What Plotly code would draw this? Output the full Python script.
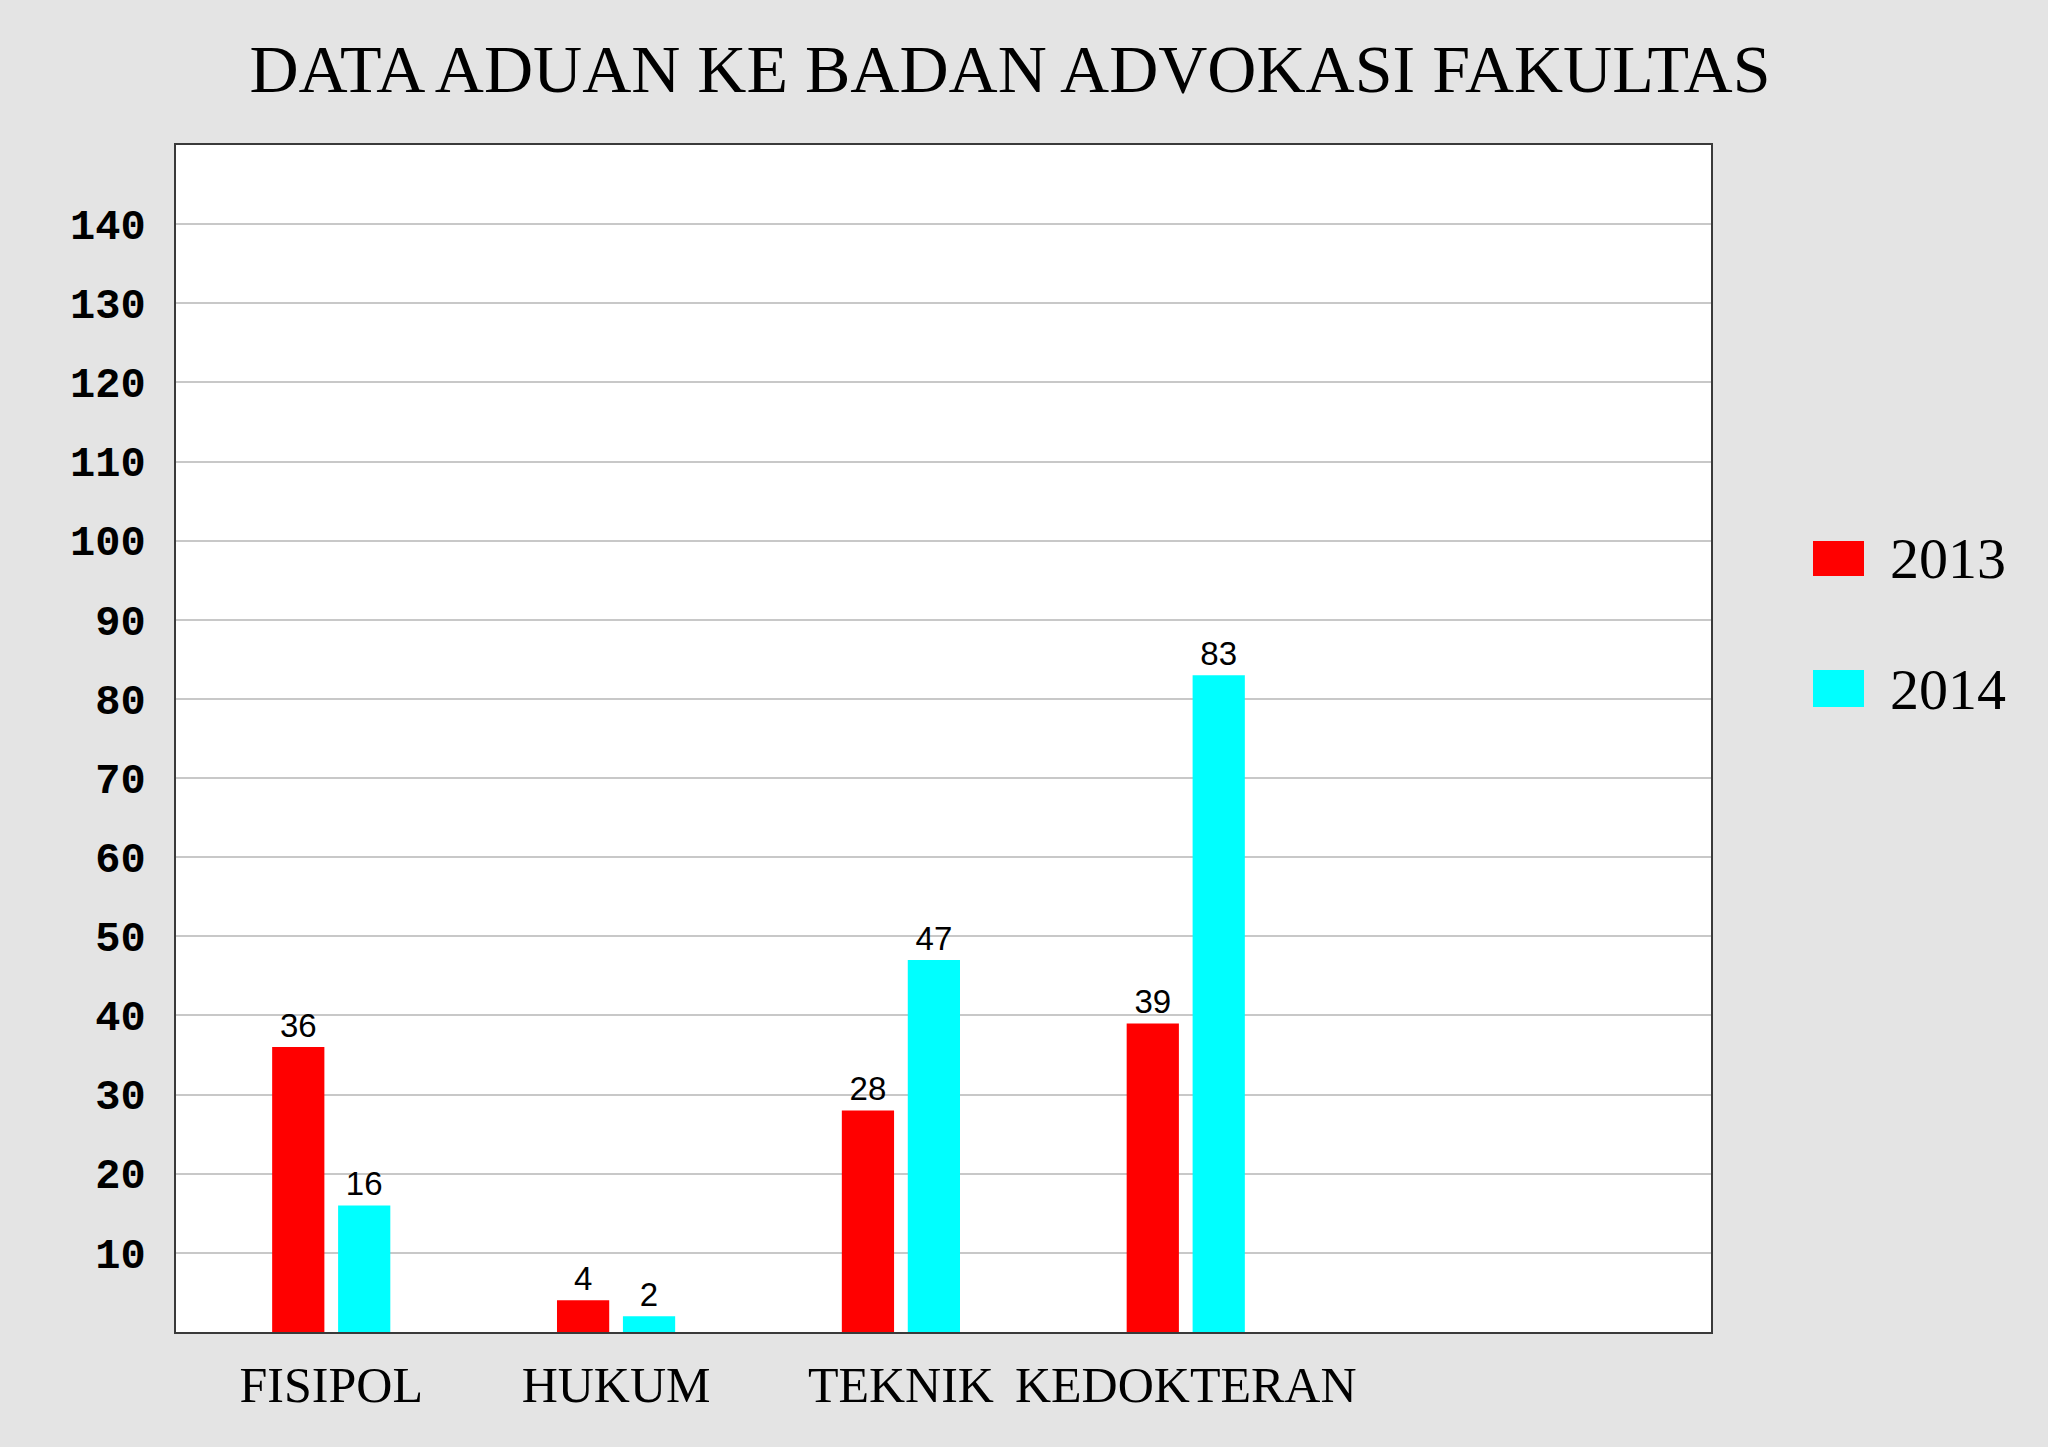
import plotly.graph_objects as go

# ---- data ----
categories = ["FISIPOL", "HUKUM", "TEKNIK", "KEDOKTERAN"]
series_names = ["2013", "2014"]
values_2013 = [36, 4, 28, 39]
values_2014 = [16, 2, 47, 83]
y_ticks = [10, 20, 30, 40, 50, 60, 70, 80, 90, 100, 110, 120, 130, 140]
title_text = "DATA ADUAN KE BADAN ADVOKASI FAKULTAS"

# ---- style ----
colors = {"2013": "#ff0000", "2014": "#00ffff"}
W, H = 2048, 1447
L, R, T, B = 176, 337, 145, 115
plot_w = W - L - R
plot_h = H - T - B

def px_x(px):
    return (px - L) / plot_w

def px_y(py):
    return (H - B - py) / plot_h

fig = go.Figure()
for name, vals in zip(series_names, [values_2013, values_2014]):
    fig.add_trace(go.Bar(
        x=categories, y=vals, name=name,
        marker=dict(color=colors[name], line=dict(width=0)),
        text=[str(v) for v in vals], textposition="outside",
        textfont=dict(family="Liberation Sans, Arial", size=33, color="black"),
        cliponaxis=False, showlegend=False,
    ))

# manual legend (large swatches)
legend_rows = [(541, 576, 558), (670, 707, 689)]
for name, (top, bot, mid) in zip(series_names, legend_rows):
    fig.add_shape(type="rect", xref="paper", yref="paper",
                  x0=px_x(1813), x1=px_x(1864), y0=px_y(bot), y1=px_y(top),
                  fillcolor=colors[name], line=dict(width=0))
    fig.add_annotation(xref="paper", yref="paper", x=px_x(1888), y=px_y(mid),
                       xanchor="left", yanchor="middle", showarrow=False,
                       text=name,
                       font=dict(family="Liberation Serif, Times New Roman", size=58, color="black"))

fig.update_layout(
    width=W, height=H,
    margin=dict(l=L, r=R, t=T, b=B, autoexpand=False),
    paper_bgcolor="#e4e4e4",
    plot_bgcolor="#ffffff",
    barmode="group",
    bargap=0.537,
    bargroupgap=0.208,
    title=dict(text=title_text, x=1010 / W, xref="container", xanchor="center",
               y=1 - 68 / H, yref="container", yanchor="middle",
               font=dict(family="Liberation Serif, Times New Roman", size=68, color="black")),
    xaxis=dict(
        type="category", range=[-0.545, 4.844],
        showgrid=False, ticks="", showline=True, linecolor="#3a3a3a", linewidth=2,
        mirror=True, ticklabelstandoff=8,
        tickfont=dict(family="Liberation Serif, Times New Roman", size=50, color="black"),
    ),
    yaxis=dict(
        range=[0, 150], tickvals=y_ticks, showgrid=True, gridcolor="#c8c8c8", gridwidth=2,
        zeroline=False, ticks="", showline=True, linecolor="#3a3a3a", linewidth=2,
        mirror=True, ticklabelstandoff=20,
        tickfont=dict(family="Liberation Mono, Courier New", size=42, color="black", weight="bold"),
    ),
)

fig.write_html("out.html", config={"displayModeBar": False},
               post_script="document.body.style.margin='0';document.body.style.background='#e4e4e4';")
